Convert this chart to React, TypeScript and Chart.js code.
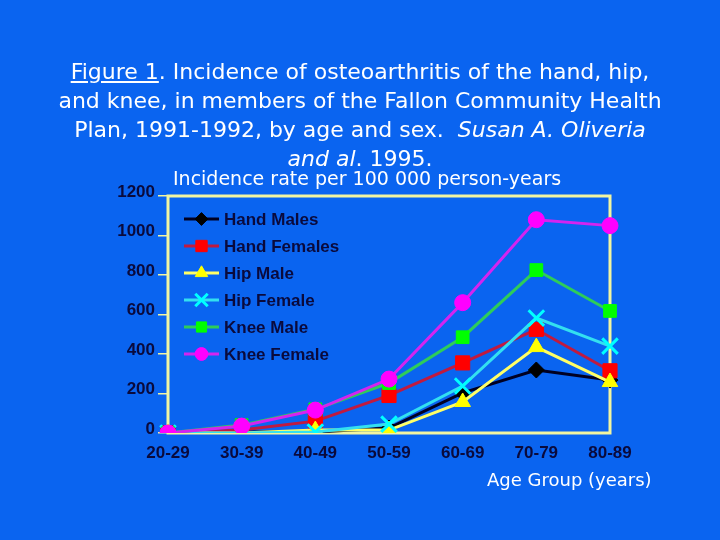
import React, { useEffect, useRef } from "react";
import { Chart, registerables } from "chart.js";
import { drawPoint } from "chart.js/helpers";

Chart.register(...registerables);

const categories = ["20-29", "30-39", "40-49", "50-59", "60-69", "70-79", "80-89"];
const yTicks = [0, 200, 400, 600, 800, 1000, 1200];

const handMales = [0, 5, 5, 25, 203, 319, 268];
const handFemales = [0, 15, 60, 190, 355, 525, 315];
const hipMale = [0, 0, 15, 15, 157, 435, 258];
const hipFemale = [0, 0, 5, 45, 238, 582, 440];
const kneeMale = [0, 40, 120, 253, 485, 825, 618];
const kneeFemale = [0, 35, 116, 273, 660, 1080, 1050];

const seriesNames = ["Hand Males", "Hand Females", "Hip Male", "Hip Female", "Knee Male", "Knee Female"];

const BG = "#0A64F0";
const NAVY = "#0A0A3C";
const FRAME = "#F2F5A0";
const LABEL_FONT = "'Liberation Sans', Arial, sans-serif";

const frameAndLegend = {
  id: "frameAndLegend",
  beforeDatasetsDraw(chart: any) {
    const { ctx, chartArea } = chart;
    ctx.save();
    ctx.strokeStyle = FRAME;
    ctx.lineWidth = 3;
    ctx.strokeRect(chartArea.left, chartArea.top, chartArea.right - chartArea.left, chartArea.bottom - chartArea.top);
    ctx.restore();
  },
  afterDraw(chart: any) {
    const { ctx, chartArea } = chart;
    ctx.save();
    chart.data.datasets.forEach((ds: any, i: number) => {
      const y = chartArea.top + 23 + i * 27;
      const x0 = chartArea.left + 16;
      const x1 = chartArea.left + 51;
      ctx.strokeStyle = ds.borderColor;
      ctx.lineWidth = 3;
      ctx.beginPath();
      ctx.moveTo(x0, y);
      ctx.lineTo(x1, y);
      ctx.stroke();
      ctx.fillStyle = ds.pointBackgroundColor;
      ctx.strokeStyle = ds.pointBorderColor;
      ctx.lineWidth = ds.pointBorderWidth;
      drawPoint(ctx, { pointStyle: ds.pointStyle, radius: ds.pointRadius * 0.8, rotation: 0, borderWidth: ds.pointBorderWidth }, (x0 + x1) / 2, y);
      ctx.fillStyle = NAVY;
      ctx.font = "bold 17px " + LABEL_FONT;
      ctx.textBaseline = "middle";
      ctx.textAlign = "left";
      ctx.fillText(ds.label, x1 + 5, y + 1);
    });
    ctx.restore();
  },
};

function mk(label: string, data: number[], line: string, marker: string, style: string, radius: number, order: number, bw = 1) {
  return {
    label,
    data,
    borderColor: line,
    borderWidth: 3,
    pointStyle: style,
    pointRadius: radius,
    pointBackgroundColor: marker,
    pointBorderColor: marker,
    pointBorderWidth: bw,
    order,
    tension: 0,
  };
}

export default function App() {
  const ref = useRef<HTMLCanvasElement>(null);
  useEffect(() => {
    document.body.style.margin = "0";
    const chart = new Chart(ref.current!, {
      type: "line",
      data: {
        labels: categories,
        datasets: [
          mk(seriesNames[0], handMales, "#000022", "#000000", "rectRot", 8, 6),
          mk(seriesNames[1], handFemales, "#C01A40", "#FF0000", "rect", 10, 5),
          mk(seriesNames[2], hipMale, "#FFFF66", "#FFFF00", "triangle", 9, 4),
          mk(seriesNames[3], hipFemale, "#33E0F0", "#00FFFF", "crossRot", 11, 3, 3),
          mk(seriesNames[4], kneeMale, "#2ECC5A", "#00FF00", "rect", 9, 2),
          mk(seriesNames[5], kneeFemale, "#D424F0", "#FF00FF", "circle", 8, 1),
        ] as any,
      },
      options: {
        responsive: false,
        animation: false,
        layout: { padding: { left: 0, right: 110, top: 196, bottom: 0 } },
        plugins: { legend: { display: false }, tooltip: { enabled: false }, title: { display: false } },
        scales: {
          x: {
            offset: false,
            grid: { display: false, drawTicks: false },
            border: { display: false },
            ticks: { color: NAVY, font: { size: 17, weight: "bold", family: LABEL_FONT }, padding: 10, maxRotation: 0, autoSkip: false },
            afterFit: (s: any) => { s.height = 107; },
          },
          y: {
            min: 0,
            max: 1200,
            afterBuildTicks: (s: any) => { s.ticks = yTicks.map((v) => ({ value: v })); },
            grid: { drawOnChartArea: false, drawTicks: true, tickLength: 10, color: FRAME, lineWidth: 1.5 },
            border: { display: false },
            ticks: {
              color: NAVY,
              font: { size: 17, weight: "bold", family: LABEL_FONT },
              padding: 3,
              labelOffset: -4,
              callback: (v: any) => String(v),
            },
            afterFit: (s: any) => { s.width = 168; },
          },
        },
      },
      plugins: [frameAndLegend],
    });
    return () => chart.destroy();
  }, []);

  const titleFont = "'DejaVu Sans', sans-serif";
  return (
    <div style={{ position: "fixed", left: 0, top: 0, width: 720, height: 540, background: BG, overflow: "hidden" }}>
      <canvas ref={ref} width={720} height={540} style={{ position: "absolute", left: 0, top: 0 }} />
      <div style={{ position: "absolute", left: 0, top: 57, width: 720, textAlign: "center", color: "#FFFFFF", fontFamily: titleFont, fontSize: 22, lineHeight: "29px" }}>
        <span style={{ textDecoration: "underline" }}>Figure 1</span>. Incidence of osteoarthritis of the hand, hip,<br />
        and knee, in members of the Fallon Community Health<br />
        Plan, 1991-1992, by age and sex.&nbsp; <i>Susan A. Oliveria</i><br />
        <i>and al</i>. 1995.
      </div>
      <div style={{ position: "absolute", left: 173, top: 166, color: "#FFFFFF", fontFamily: titleFont, fontSize: 19, lineHeight: "24px", whiteSpace: "nowrap" }}>
        Incidence rate per 100 000 person-years
      </div>
      <div style={{ position: "absolute", left: 487, top: 468, color: "#FFFFFF", fontFamily: titleFont, fontSize: 18, lineHeight: "24px", whiteSpace: "nowrap" }}>
        Age Group (years)
      </div>
    </div>
  );
}
